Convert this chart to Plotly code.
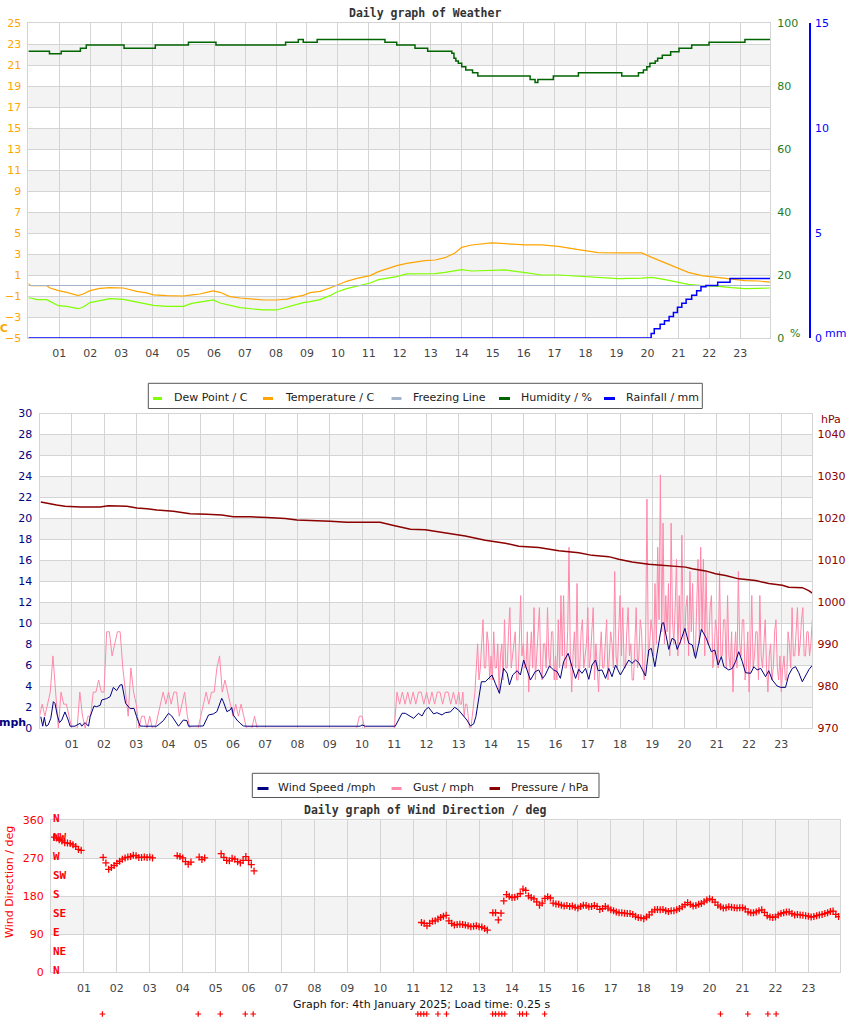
import plotly.graph_objects as go

W, H = 850, 1017

def px(x):
    return x / W

def py(y):
    return 1 - y / H

# ---------------- DATA ----------------
HOUR_TICKS = list(range(1, 24))
HOUR_LABELS = ["%02d" % h for h in HOUR_TICKS]

temp_t = [0.0, 0.08, 0.27, 0.59, 0.70, 0.97, 1.24, 1.61, 1.77, 1.99, 2.31, 2.64, 3.07, 3.50, 3.82, 4.04,
          4.47, 5.01, 5.28, 5.54, 5.76, 5.97, 6.19, 6.51, 6.84, 7.27, 7.59, 8.02, 8.35, 8.56, 8.88, 9.10,
          9.42, 9.74, 9.96, 10.28, 10.61, 11.04, 11.31, 11.58, 11.90, 12.22, 12.49, 12.81, 13.14, 13.46,
          13.78, 14.0, 14.32, 14.97, 15.40, 16.05, 16.58, 17.12, 17.77, 18.41, 19.06, 19.82, 20.14,
          20.57, 21.0, 21.32, 21.75, 22.29, 22.72, 23.15, 23.58, 23.96]
temperature = [0.17, -0.02, -0.02, -0.02, -0.24, -0.49, -0.65, -0.97, -0.81, -0.49, -0.27, -0.21, -0.24,
               -0.56, -0.71, -0.90, -0.97, -1.0, -0.90, -0.81, -0.65, -0.52, -0.65, -1.06, -1.19, -1.29,
               -1.38, -1.38, -1.29, -1.13, -0.94, -0.68, -0.56, -0.24, 0.05, 0.40, 0.68, 0.94, 1.32, 1.57,
               1.89, 2.11, 2.24, 2.37, 2.43, 2.65, 3.10, 3.63, 3.86, 4.05, 3.98, 3.86, 3.86, 3.73, 3.41,
               3.13, 3.10, 3.10, 2.68, 2.14, 1.67, 1.25, 0.94, 0.78, 0.62, 0.46, 0.43, 0.33]
dew_point = [-1.19, -1.19, -1.35, -1.35, -1.51, -1.92, -1.98, -2.21, -2.05, -1.63, -1.44, -1.25, -1.32,
             -1.60, -1.76, -1.89, -1.98, -1.98, -1.70, -1.60, -1.51, -1.38, -1.67, -1.89, -2.11, -2.24,
             -2.33, -2.33, -2.08, -1.92, -1.63, -1.54, -1.35, -0.97, -0.62, -0.30, -0.08, 0.24, 0.56,
             0.71, 0.84, 1.10, 1.10, 1.10, 1.13, 1.25, 1.44, 1.51, 1.38, 1.48, 1.48, 1.22, 1.00, 1.00,
             0.87, 0.78, 0.65, 0.71, 0.78, 0.56, 0.30, 0.11, -0.02, -0.08, -0.21, -0.30, -0.27, -0.24]

freeze_t = [0.0, 23.96]
freeze_v = [0.0, 0.0]

hum_t = [0, 0.68, 1.06, 1.68, 1.87, 3.09, 4.10, 5.17, 6.06, 8.31, 8.72, 8.88, 9.33, 11.52, 11.90, 12.49,
         12.90, 13.68, 13.75, 13.81, 13.89, 14.0, 14.13, 14.35, 14.52, 16.21, 16.37, 16.46, 16.96, 17.77,
         19.17, 19.71, 19.87, 19.98, 20.08, 20.25, 20.33, 20.48, 20.75, 21.02, 21.43, 21.99, 23.15, 23.96]
humidity = [91.0, 90.2, 91.0, 92.0, 93.0, 92.0, 93.0, 93.9, 93.0, 93.9, 94.8, 93.9, 94.8, 93.9, 93.0, 92.0,
            91.0, 90.4, 88.8, 87.9, 87.2, 86.1, 85.1, 84.2, 83.2, 82.1, 81.1, 82.1, 83.2, 84.2,
            83.2, 84.2, 85.1, 86.1, 87.2, 87.9, 88.8, 89.8, 90.9, 92.0, 93.0, 93.9, 94.8, 94.8]

rain_t = [0, 20.08, 20.12, 20.22, 20.41, 20.55, 20.70, 20.84, 20.97, 21.11, 21.25, 21.43, 21.59, 21.73,
          21.89, 22.27, 22.67, 23.96]
rainfall = [0, 0, 0.22, 0.44, 0.65, 0.82, 1.02, 1.22, 1.46, 1.65, 1.84, 2.03, 2.25, 2.44, 2.50, 2.65,
            2.83, 2.83]

pres_t = [0.04, 0.33, 0.53, 0.79, 1.26, 1.88, 2.13, 2.71, 3.02, 3.33, 3.64, 4.15, 4.46, 4.67, 5.19, 5.65,
          6.01, 6.53, 7.05, 7.62, 7.98, 8.50, 9.01, 9.53, 10.56, 10.98, 11.50, 11.96, 12.37, 12.79, 13.20,
          13.82, 14.44, 14.86, 15.48, 16.10, 16.72, 17.13, 17.65, 17.96, 18.37, 18.89, 19.20, 19.62,
          20.03, 20.24, 20.65, 20.96, 21.27, 21.68, 22.20, 22.61, 23.03, 23.23, 23.65, 23.85, 23.96]
pressure = [1023.9, 1023.4, 1023.2, 1022.9, 1022.7, 1022.7, 1023.0, 1022.9, 1022.5, 1022.3, 1022.0,
            1021.7, 1021.4, 1021.1, 1021.0, 1020.8, 1020.4, 1020.4, 1020.2, 1020.0, 1019.6, 1019.5,
            1019.3, 1019.1, 1019.1, 1018.3, 1017.4, 1017.3, 1016.8, 1016.4, 1015.8, 1014.8, 1014.1,
            1013.4, 1013.1, 1012.3, 1011.8, 1011.2, 1010.9, 1010.3, 1009.6, 1009.1, 1008.9, 1008.7,
            1008.4, 1008.0, 1007.5, 1006.8, 1006.4, 1005.6, 1005.2, 1004.5, 1004.1, 1003.6, 1003.5,
            1002.8, 1002.2]

wind_t = [0.04, 0.10, 0.15, 0.20, 0.27, 0.35, 0.43, 0.48, 0.55, 0.62, 0.69, 0.79, 0.89, 0.95, 1.10, 1.26,
          1.31, 1.41, 1.52, 1.57, 1.69, 1.77, 1.88, 1.93, 2.08, 2.19, 2.29, 2.39, 2.50, 2.56, 2.62, 2.67,
          2.81, 2.93, 3.01, 3.12, 3.22, 3.64, 3.84, 4.00, 4.10, 4.20, 4.31, 4.46, 4.57, 4.62, 4.98, 5.08,
          5.24, 5.39, 5.50, 5.65, 5.70, 5.81, 5.91, 5.96, 6.01, 6.12, 6.22, 6.32, 6.43, 9.94, 10.00,
          10.10, 11.03, 11.13, 11.24, 11.34, 11.44, 11.60, 11.75, 11.86, 11.96, 12.06, 12.22, 12.32,
          12.48, 12.58, 12.74, 12.87, 12.99, 13.10, 13.25, 13.36, 13.46, 13.53, 13.62, 13.70, 13.82,
          13.93, 14.03, 14.13, 14.26, 14.39, 14.50, 14.57, 14.67, 14.81, 14.91, 15.01, 15.12, 15.22,
          15.37, 15.48, 15.60, 15.68, 15.81, 15.94, 16.05, 16.15, 16.25, 16.39, 16.51, 16.62, 16.72,
          16.82, 16.93, 17.03, 17.13, 17.24, 17.32, 17.44, 17.55, 17.65, 17.75, 17.86, 18.01, 18.15,
          18.27, 18.37, 18.48, 18.58, 18.68, 18.79, 18.89, 18.97, 19.08, 19.20, 19.30, 19.35, 19.43,
          19.51, 19.61, 19.70, 19.77, 19.87, 20.01, 20.13, 20.24, 20.34, 20.44, 20.52, 20.65, 20.75,
          20.83, 20.94, 21.04, 21.14, 21.22, 21.37, 21.48, 21.58, 21.68, 21.79, 21.89, 22.05, 22.15,
          22.25, 22.36, 22.51, 22.61, 22.72, 22.87, 22.98, 23.13, 23.23, 23.34, 23.44, 23.54, 23.65,
          23.75, 23.86, 23.96]
wind_speed = [1.1, 0.2, 1.05, 0.2, 0.32, 0.95, 2.54, 2.38, 1.27, 0.54, 0.79, 1.56, 0.79, 0.2, 0.2, 0.48,
              0.2, 0.54, 0.2, 1.1, 2.13, 2.06, 2.19, 2.7, 2.83, 3.02, 3.9, 3.59, 4.13, 4.16, 3.17, 2.38,
              1.87, 1.9, 1.11, 0.22, 0.2, 0.2, 0.73, 1.43, 1.17, 0.73, 0.2, 0.79, 0.73, 0.2, 0.2, 0.22,
              1.27, 1.37, 1.59, 2.86, 2.54, 1.59, 1.75, 2.0, 1.27, 0.79, 0.48, 0.22, 0.2, 0.2, 0.32,
              0.2, 0.2, 0.79, 1.43, 1.43, 1.27, 0.95, 1.43, 1.17, 1.75, 2.0, 1.37, 1.49,
              1.27, 1.49, 1.56, 2.0, 1.75, 1.37, 0.79, 0.22, 0.41, 1.11, 2.7, 4.44, 4.44,
              4.76, 5.08, 4.29, 3.33, 5.71, 5.24, 4.13, 5.08, 5.49, 5.08, 6.51, 5.56, 4.6,
              5.40, 5.56, 4.76, 5.08, 5.94, 5.56, 5.40, 4.76, 6.35, 7.14, 5.87, 4.76, 5.62,
              5.24, 5.71, 4.67, 6.03, 6.51, 5.49, 5.56, 4.76, 5.71, 4.92, 6.03, 5.08, 5.87,
              6.51, 6.19, 6.51, 6.25, 5.71, 4.98, 7.46, 7.62, 5.87, 8.10, 10.0, 10.06, 8.89,
              7.52, 8.57, 8.41, 7.52, 8.25, 9.52, 8.10, 7.94, 6.67, 8.10, 9.43, 8.73, 7.94,
              7.30, 7.46, 6.03, 6.83, 5.87, 5.56, 5.71, 6.35, 7.30, 6.35, 5.30, 5.24, 5.87,
              5.56, 5.71, 4.92, 5.49, 4.60, 4.03, 3.90, 3.90, 5.08, 5.71, 5.87, 5.30, 4.44,
              5.08, 5.62, 6.0]

# gust (mph) in segments: (start hour, minutes between readings, readings)
gust_segments = [
    (0, 5,
     [1.15, 2.3, 1.15, 2.3, 3.45, 6.9, 3.45, 0, 3.45, 2.3, 2.3, 1.15] +
     [0, 0, 0, 3.45, 1.15, 0, 1.15, 1.15, 3.45, 3.45, 4.6, 3.45] +
     [3.45, 9.2, 9.2, 6.9, 8.05, 9.2, 9.2, 5.75, 3.45, 1.15, 5.75, 3.45] +
     [2.3, 0, 1.15, 1.15, 0, 1.15, 0, 0, 1.15, 2.3, 3.45, 2.3] +
     [3.45, 2.3, 3.45, 3.45, 1.15, 2.3, 3.45, 1.15, 0, 0, 0, 0] +
     [1.15, 2.3, 3.45, 2.3, 3.45, 3.45, 5.75, 6.9, 3.45, 4.6, 3.45, 2.3] +
     [1.15, 2.3, 1.15, 2.3, 1.15, 0, 0, 0, 1.15, 0, 0, 0] +
     [0, 0, 0, 0, 0, 0, 0, 0, 0, 0, 0, 0] +
     [0, 0, 0, 0, 0, 0, 0, 0, 0, 0, 0, 0] +
     [0, 0, 0, 0, 0, 0, 0, 0, 0, 0, 0, 1.15] +
     [1.15, 0, 0, 0, 0, 0, 0, 0, 0, 0, 0, 0] +
     [0, 3.45, 2.3, 3.45, 2.3, 3.45, 2.3, 3.45, 2.3, 3.45, 3.45, 2.3] +
     [3.45, 2.3, 3.45, 2.3, 3.45, 3.45, 2.3, 3.45, 3.45, 2.3, 3.45, 2.3]),
    (13, 2.5,
     [3.45, 2.3, 2.3, 3.45, 1.15, 2.3, 2.3, 1.15, 0, 0, 1.15, 2.3,
      3.45, 5.75, 8.05, 4.6, 5.75, 8.05, 10.35, 5.75, 5.75, 9.2, 8.05, 4.6] +
     [6.9, 4.6, 9.2, 5.75, 5.75, 8.05, 3.45, 6.9, 8.05, 4.6, 10.35, 5.75,
      5.75, 9.2, 11.5, 5.75, 6.9, 8.05, 9.2, 4.6, 4.6, 8.05, 12.65, 6.9] +
     [8.05, 5.75, 5.75, 9.2, 3.45, 6.9, 9.2, 5.75, 11.5, 4.6, 6.9, 10.35,
      11.5, 5.75, 4.6, 8.05, 8.05, 5.75, 11.5, 6.9, 5.75, 9.2, 9.2, 4.6] +
     [6.9, 4.6, 10.35, 5.75, 12.65, 6.9, 12.65, 5.75, 5.75, 9.2, 17.25, 6.9,
      3.45, 6.9, 9.2, 5.75, 13.8, 4.6, 5.75, 9.2, 10.35, 5.75, 6.9, 8.05] +
     [11.5, 5.75, 6.9, 9.2, 11.5, 4.6, 8.05, 5.75, 3.45, 6.9, 9.2, 5.75,
      5.75, 8.05, 10.35, 4.6, 6.9, 9.2, 8.05, 5.75, 14.95, 6.9, 5.75, 9.2] +
     [12.65, 6.9, 11.5, 5.75, 5.75, 9.2, 11.5, 6.9, 8.05, 4.6, 4.6, 8.05,
      11.5, 5.75, 6.9, 10.35, 9.2, 5.75, 4.6, 8.05, 21.85, 6.9, 8.05, 10.35] +
     [9.2, 6.9, 13.8, 8.05, 17.25, 10.35, 24.15, 9.2, 19.55, 8.05, 12.65, 9.2,
      13.8, 6.9, 19.55, 10.35, 8.05, 11.5, 16.1, 6.9, 12.65, 8.05, 18.4, 9.2] +
     [8.05, 11.5, 12.65, 6.9, 14.95, 9.2, 13.8, 6.9, 6.9, 11.5, 16.1, 8.05,
      17.25, 9.2, 16.1, 6.9, 14.95, 8.05, 8.05, 11.5, 12.65, 5.75, 6.9, 10.35] +
     [9.2, 5.75, 14.95, 6.9, 6.9, 10.35, 10.35, 5.75, 12.65, 6.9, 5.75, 9.2,
      3.45, 6.9, 9.2, 5.75, 14.95, 8.05, 6.9, 10.35, 10.35, 4.6, 5.75, 9.2] +
     [3.45, 6.9, 12.65, 5.75, 6.9, 9.2, 9.2, 4.6, 12.65, 6.9, 5.75, 8.05,
      10.35, 5.75, 3.45, 6.9, 8.05, 4.6, 5.75, 9.2, 10.35, 5.75, 4.6, 6.9] +
     [3.45, 5.75, 6.9, 4.6, 4.6, 9.2, 8.05, 5.75, 11.5, 6.9, 6.9, 9.2,
      11.5, 6.9, 8.05, 10.35, 11.5, 6.9, 6.9, 9.2, 9.2, 6.9, 8.05, 10.35]),
]

DIR_STEP_MIN = 5
dir_segments = [
    (1 / 12, [320, 318, 314, 311, 307, 306, 305, 302, 298, 291, 289]),
    (19 / 12, [272, 259, 244, 248, 253, 258, 263, 268, 271, 273, 274, 277, 276, 272, 272, 273, 272,
               273, 271]),
    (46 / 12, [276, 274, 271, 262, 256, 261]),
    (54 / 12, [273, 267, 271]),
    (62 / 12, [281, 272, 265, 264, 270, 268, 262, 259, 265, 274, 265, 255, 240]),
    (135 / 12, [118, 116, 110, 116, 121, 122, 126, 130, 133, 135, 122, 116, 112, 113, 114, 113, 112,
                110, 108, 109, 110, 108, 107, 104, 100]),
    (161 / 12, [141, 141, 124, 140, 169]),
    (166 / 12, [184, 180, 177, 178, 180, 186, 197, 194, 181, 177, 174, 167, 159, 164, 175, 179, 176,
                164, 162, 161, 159, 157, 158, 156, 157, 154, 152, 156, 159, 158, 155, 156, 158, 156,
                149, 151, 156, 152, 148, 146, 143, 141, 141, 140, 139, 139, 137, 133, 130, 129, 127,
                131, 136, 143, 148, 149, 148, 149, 146, 144, 146, 146, 148, 151, 155, 160, 165, 161,
                157, 158, 161, 163, 167, 171, 174, 172, 166, 159, 155, 152, 153, 155, 154, 153, 152,
                153, 153, 150, 143, 141, 141, 143, 146, 148, 142, 134, 131, 130, 131, 136, 139, 141,
                143, 143, 139, 136, 137, 136, 135, 134, 133, 131, 132, 134, 136, 137, 139, 141, 144,
                145, 137, 132]),
]
calm_t = [1.56, 4.47, 5.14, 5.90, 6.14, 11.14, 11.23, 11.32, 11.41, 11.75, 12.01, 13.41, 13.50, 13.60,
          13.69, 13.78, 14.23, 14.32, 14.44, 14.99, 20.33, 21.16, 21.77, 22.02]

TEMP_TICKS = list(range(-5, 26, 2))
HUM_TICKS = [0, 20, 40, 60, 80, 100]
RAIN_TICKS = [0, 5, 10, 15]
WIND_TICKS = list(range(0, 31, 2))
PRES_TICKS = list(range(970, 1041, 10))
DIR_TICKS = [0, 90, 180, 270, 360]
COMPASS = [(360, "N"), (315, "NW"), (270, "W"), (225, "SW"), (180, "S"), (135, "SE"), (90, "E"),
           (45, "NE"), (0, "N")]

# ---------------- FIGURE ----------------
gust_t, gust = [], []
for start, step, vals in gust_segments:
    for i, v in enumerate(vals):
        gust_t.append(start + i * step / 60)
        gust.append(v)
dir_t, dir_v = [], []
for start, vals in dir_segments:
    for i, v in enumerate(vals):
        dir_t.append(start + i * DIR_STEP_MIN / 60)
        dir_v.append(v)
calm_v = [0] * len(calm_t)

XR = [0, 23.96]
GRID = "#d4d4d4"
BAND = "#f3f3f3"
FONT = "DejaVu Sans"
MONO = "DejaVu Sans Mono"

C_DEW, C_TEMP, C_FRZ, C_HUM, C_RAIN = "#7FFF00", "#FFA500", "#A4B4CC", "#006400", "#0000FF"
C_WIND, C_GUST, C_PRES, C_DIR = "#000080", "#FF88AA", "#8B0000", "#FF0000"

fig = go.Figure()

fig.add_trace(go.Scatter(x=temp_t, y=dew_point, name="Dew Point / C", mode="lines",
                         line=dict(color=C_DEW, width=1.2), xaxis="x", yaxis="y", showlegend=False))
fig.add_trace(go.Scatter(x=temp_t, y=temperature, name="Temperature / C", mode="lines",
                         line=dict(color=C_TEMP, width=1.2), xaxis="x", yaxis="y", showlegend=False))
fig.add_trace(go.Scatter(x=freeze_t, y=freeze_v, name="Freezing Line", mode="lines",
                         line=dict(color=C_FRZ, width=1.2), xaxis="x", yaxis="y", showlegend=False))
fig.add_trace(go.Scatter(x=hum_t, y=humidity, name="Humidity / %", mode="lines",
                         line=dict(color=C_HUM, width=1.5, shape="hv"), xaxis="x", yaxis="y2",
                         showlegend=False))
fig.add_trace(go.Scatter(x=rain_t, y=rainfall, name="Rainfall / mm", mode="lines",
                         line=dict(color=C_RAIN, width=1.5, shape="hv"), xaxis="x", yaxis="y3",
                         showlegend=False))

fig.add_trace(go.Scatter(x=gust_t, y=gust, name="Gust / mph", mode="lines",
                         line=dict(color=C_GUST, width=1), xaxis="x2", yaxis="y4", showlegend=False))
fig.add_trace(go.Scatter(x=wind_t, y=wind_speed, name="Wind Speed /mph", mode="lines",
                         line=dict(color=C_WIND, width=1), xaxis="x2", yaxis="y4", showlegend=False))
fig.add_trace(go.Scatter(x=pres_t, y=pressure, name="Pressure / hPa", mode="lines",
                         line=dict(color=C_PRES, width=1.5), xaxis="x2", yaxis="y5", showlegend=False))

fig.add_trace(go.Scatter(x=dir_t, y=dir_v, mode="markers", showlegend=False, name="Wind Direction",
                         marker=dict(symbol="cross-thin", size=5, color=C_DIR,
                                     line=dict(color=C_DIR, width=1.3)),
                         xaxis="x3", yaxis="y6"))
fig.add_trace(go.Scatter(x=calm_t, y=calm_v, mode="markers", showlegend=False, name="Calm",
                         marker=dict(symbol="cross-thin", size=4, color=C_DIR,
                                     line=dict(color=C_DIR, width=1.2)),
                         xaxis="x4", yaxis="y7"))

def xax(domain, anchor):
    return dict(domain=domain, anchor=anchor, range=XR, tickvals=HOUR_TICKS, ticktext=HOUR_LABELS,
                showgrid=True, gridcolor=GRID, gridwidth=1, zeroline=False,
                ticks="outside", ticklen=5, tickcolor="rgba(0,0,0,0)",
                tickfont=dict(family=FONT, size=11, color="#444"),
                showline=True, mirror=True, linecolor=GRID, linewidth=1)

def yax(domain, anchor, rng, ticks, color, grid=True):
    return dict(domain=domain, anchor=anchor, range=rng, tickvals=ticks, showgrid=grid,
                gridcolor=GRID, zeroline=False, ticks="outside", ticklen=4,
                tickcolor="rgba(0,0,0,0)", tickfont=dict(family=FONT, size=11, color=color),
                showline=True, mirror=True, linecolor=GRID, linewidth=1)

x1d = [px(28.4), px(770)]
y1d = [py(338), py(23)]
x2d = [px(39.5), px(812.3)]
y2d = [py(728.3), py(413.5)]
x3d = [px(51), px(840)]
y3d = [py(972.3), py(820.3)]

layout = dict(
    width=W, height=H, autosize=False, margin=dict(l=0, r=0, t=0, b=0, pad=0, autoexpand=False),
    paper_bgcolor="white", plot_bgcolor="white", showlegend=False,
    font=dict(family=FONT, size=11, color="#222"),
    xaxis=xax(x1d, "y"),
    yaxis=yax(y1d, "x", [-5, 25], TEMP_TICKS, C_TEMP),
    yaxis2=dict(overlaying="y", side="right", anchor="x", range=[0, 100], tickvals=HUM_TICKS,
                showgrid=False, zeroline=False, showline=False, ticks="outside", ticklen=4,
                tickcolor="rgba(0,0,0,0)", tickfont=dict(family=FONT, size=11, color="#1E7B1E")),
    yaxis3=dict(overlaying="y", side="right", anchor="free", position=px(810), range=[0, 15],
                tickvals=RAIN_TICKS, showgrid=False, zeroline=False, showline=True,
                linecolor=C_RAIN, linewidth=1.5, ticks="outside", ticklen=2,
                tickcolor="rgba(0,0,0,0)", tickfont=dict(family=FONT, size=11, color=C_RAIN)),
    xaxis2=xax(x2d, "y4"),
    yaxis4=yax(y2d, "x2", [0, 30], WIND_TICKS, C_WIND),
    yaxis5=dict(overlaying="y4", side="right", anchor="x2", range=[970, 1045], tickvals=PRES_TICKS,
                showgrid=False, zeroline=False, showline=False, ticks="outside", ticklen=2,
                tickcolor="rgba(0,0,0,0)", tickfont=dict(family=FONT, size=11, color=C_PRES)),
    xaxis3=xax(x3d, "y6"),
    yaxis6=yax(y3d, "x3", [0, 360], DIR_TICKS, C_DIR),
    xaxis4=dict(domain=x3d, anchor="y7", range=XR, visible=False, showgrid=False, zeroline=False),
    yaxis7=dict(domain=[py(1017), py(1011)], anchor="x4", range=[-1, 1], visible=False,
                showgrid=False, zeroline=False),
)

shapes = []
for y0, y1 in [(21, 23), (17, 19), (13, 15), (9, 11), (5, 7), (1, 3), (-3, -1)]:
    shapes.append(dict(type="rect", xref="x domain", yref="y", x0=0, x1=1, y0=y0, y1=y1,
                       fillcolor=BAND, line=dict(width=0), layer="below"))
for y0, y1 in [(26, 28), (22, 24), (18, 20), (14, 16), (10, 12), (6, 8), (2, 4)]:
    shapes.append(dict(type="rect", xref="x2 domain", yref="y4", x0=0, x1=1, y0=y0, y1=y1,
                       fillcolor=BAND, line=dict(width=0), layer="below"))
for y0, y1 in [(270, 360), (90, 180)]:
    shapes.append(dict(type="rect", xref="x3 domain", yref="y6", x0=0, x1=1, y0=y0, y1=y1,
                       fillcolor=BAND, line=dict(width=0), layer="below"))

def ann(text, x, y, color="#222", size=11, family=FONT, xanchor="center", yanchor="middle",
        angle=0):
    return dict(text=text, x=px(x), y=py(y), xref="paper", yref="paper", showarrow=False,
                xanchor=xanchor, yanchor=yanchor, textangle=angle, borderpad=0,
                font=dict(family=family, size=size, color=color))

anns = [
    ann("<b>Daily graph of Weather</b>", 425, 13, color="#333", size=11.5, family=MONO),
    ann("<b>C</b>", 4, 328.5, color=C_TEMP, size=10.5),
    ann("%", 789, 333, color="#1E7B1E", size=11, xanchor="left"),
    ann("mm", 824, 333, color=C_RAIN, size=11, xanchor="left"),
    ann("hPa", 820, 419, color=C_PRES, size=11, xanchor="left"),
    ann("<b>mph</b>", 12, 722, color=C_WIND, size=11),
    ann("<b>Daily graph of Wind Direction / deg</b>", 425, 810, color="#333", size=11.5, family=MONO),
    ann("Wind Direction / deg", 9, 882, color=C_DIR, size=11, angle=-90),
    ann("Graph for: 4th January 2025; Load time: 0.25 s", 421, 1004, color="#111", size=11),
]
for deg, lab in COMPASS:
    anns.append(dict(text="<b>%s</b>" % lab, x=px(52), y=deg, xref="paper", yref="y6",
                     showarrow=False, xanchor="left", yanchor="middle", yshift=2, borderpad=0,
                     font=dict(family=MONO, size=11, color=C_DIR)))

# legend boxes (drawn as shapes + text)
legend_boxes = [
    ((148.3, 383.3, 702.3, 408.5), 397.5,
     [("Dew Point / C", C_DEW, 153, 162, 173),
      ("Temperature / C", C_TEMP, 263, 273, 283.5),
      ("Freezing Line", C_FRZ, 391.5, 401.5, 411.5),
      ("Humidity / %", C_HUM, 499, 510, 519.5),
      ("Rainfall / mm", C_RAIN, 604, 615, 624.5)]),
    ((252.3, 773.3, 599.0, 797.5), 787.5,
     [("Wind Speed /mph", C_WIND, 257.5, 268.5, 276.8),
      ("Gust / mph", C_GUST, 391.5, 401.5, 411.7),
      ("Pressure / hPa", C_PRES, 489.5, 500, 509.5)]),
]
for (bx0, by0, bx1, by1), ty, items in legend_boxes:
    shapes.append(dict(type="rect", xref="paper", yref="paper", x0=px(bx0), x1=px(bx1),
                       y0=py(by1), y1=py(by0), fillcolor="white",
                       line=dict(color="#555", width=1), layer="above"))
    for label, color, dx0, dx1, tx in items:
        shapes.append(dict(type="line", xref="paper", yref="paper", x0=px(dx0), x1=px(dx1),
                           y0=py(ty + 1), y1=py(ty + 1), line=dict(color=color, width=3),
                           layer="above"))
        anns.append(ann(label, tx, ty, color="#222", size=11, xanchor="left"))

layout["shapes"] = shapes
layout["annotations"] = anns

fig.update_layout(**layout)
fig.write_html("out.html")
